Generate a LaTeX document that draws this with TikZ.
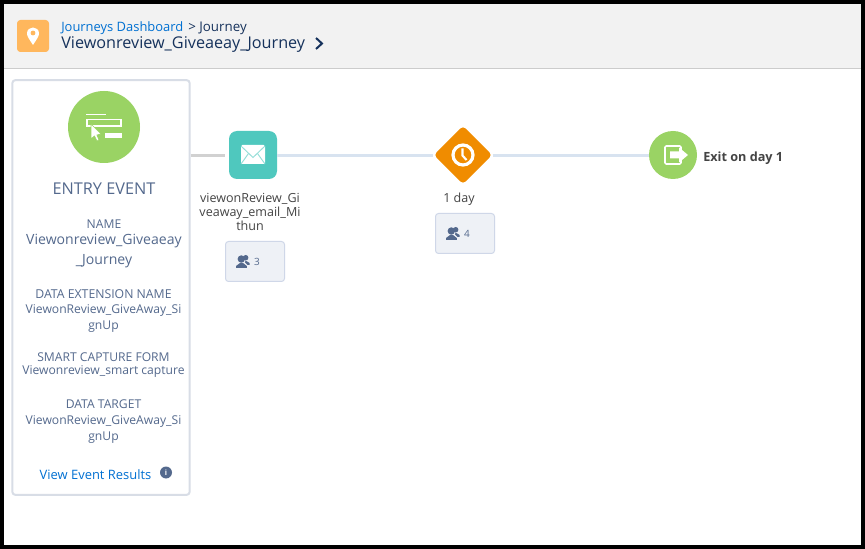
\documentclass[tikz,border=0pt]{standalone}
\usepackage{fontspec}
\setmainfont{Open Sans}
\usetikzlibrary{shapes.geometric}
\definecolor{slate}{HTML}{54698D}
\definecolor{navy}{HTML}{16325C}
\definecolor{linkblue}{HTML}{0070D2}
\definecolor{dark}{HTML}{444444}
\definecolor{panelb}{HTML}{D8DDE6}
\definecolor{green}{HTML}{9AD364}
\definecolor{teal}{HTML}{4FC8BE}
\definecolor{orange}{HTML}{F08C00}
\definecolor{pinbg}{HTML}{FFB75D}
\definecolor{badge}{HTML}{EEF1F6}
\definecolor{badgeb}{HTML}{CFD7E8}
\definecolor{header}{HTML}{F2F2F2}
\definecolor{flow}{HTML}{D8E3F0}
\tikzset{
 x=0.75pt,y=-0.75pt,
 lbl/.style={inner sep=0pt,text=#1,font=\fontsize{9.7pt}{12pt}\selectfont},
 lbl/.default=slate,
 ctext/.style={inner sep=0pt,align=center,text=slate,font=\fontsize{9.1pt}{12pt}\selectfont},
 captext/.style={inner sep=0pt,align=center,text=dark,font=\fontsize{9.4pt}{10.5pt}\selectfont},
 countbox/.style={draw=badgeb,fill=badge,line width=0.75pt,rounded corners=2.25pt,minimum width=44.25pt,minimum height=30pt,inner sep=0pt},
 flowline/.style={draw=flow,line width=2.25pt},
 iconline/.style={draw=white,line width=1.1pt},
}
\newcommand{\people}[2]{%
 \fill[slate] (#1+5.3,#2+4) circle (3.7);
 \fill[slate] (#1+0,#2+13) -- (#1+0,#2+11) -- (#1+4,#2+8) -- (#1+7,#2+8) -- (#1+10.8,#2+11) -- (#1+10.8,#2+13) -- cycle;
 \fill[slate] (#1+9.7,#2+2.7) circle (2.7);
 \fill[slate] (#1+9.5,#2+5.5) -- (#1+13.6,#2+8) -- (#1+13.6,#2+10) -- (#1+11.5,#2+10) -- (#1+9,#2+7.5) -- cycle;
}
\begin{document}
\begin{tikzpicture}
\useasboundingbox (0,0) rectangle (865,549);
\fill[black] (0,0) rectangle (865,549);
\fill[white] (4,4) rectangle (861,545);
\fill[header] (4,4) rectangle (861,68);
\draw[draw=black!20,line width=0.9pt] (4,68.5) -- (861,68.5);
% header icon
\node[fill=pinbg,minimum size=24pt,inner sep=0pt,rounded corners=2.5pt] (hicon) at (33,36) {};
\fill[white] (33,45) .. controls (29.5,39.5) and (27,36.5) .. (27,33.5) .. controls (27,25.5) and (39,25.5) .. (39,33.5) .. controls (39,36.5) and (36.5,39.5) .. (33,45) -- cycle;
\fill[pinbg] (33,33) circle (2.4);
\node[lbl=linkblue,anchor=west] (crumb) at (61,28.5) {Journeys Dashboard};
\node[lbl=navy,anchor=west,font=\fontsize{10pt}{12pt}\selectfont] (crumb2) at (188,28) {> Journey};
\node[lbl=navy,anchor=west,font=\fontsize{12.15pt}{14pt}\selectfont] (title) at (61,44.5) {Viewonreview\_Giveaeay\_Journey};
\draw[navy,line width=1.5pt] (316,38) -- (322,43.5) -- (316,49);
% panel
\node[draw=panelb,fill=white,line width=1.5pt,rounded corners=2.25pt,minimum width=133pt,minimum height=311pt,inner sep=0pt] (panel) at (101,287.5) {};
\node[fill=green,circle,minimum size=54pt,inner sep=0pt] (entry) at (104,127) {};
\draw[iconline] (86,114.5) -- (106,114.5);
\draw[iconline] (87,119.5) rectangle (121,126);
\fill[white] (105,133) rectangle (122,138);
\fill[white,draw=green,line width=0.5pt] (91,124) -- (91,139) -- (94.5,136) -- (97,141) -- (99,140) -- (97,135) -- (101,134) -- cycle;
\node[lbl,font=\fontsize{12.2pt}{14pt}\selectfont] (evt) at (104,189) {ENTRY EVENT};
\node[ctext] (n1) at (104,224) {NAME};
\node[ctext,font=\fontsize{10.55pt}{15pt}\selectfont,anchor=north] (n2) at (104,234) {Viewonreview\_Giveaeay\\\_Journey};
\node[ctext,font=\fontsize{9.2pt}{12pt}\selectfont] (n3) at (103.5,294) {DATA EXTENSION NAME};
\node[ctext,font=\fontsize{9.1pt}{12pt}\selectfont,anchor=north] (n4) at (103.5,304) {ViewonReview\_GiveAway\_Si\\gnUp};
\node[ctext] (n5) at (103.5,357) {SMART CAPTURE FORM};
\node[ctext] (n6) at (103.5,372) {Viewonreview\_smart capture};
\node[ctext] (n7) at (103.5,404) {DATA TARGET};
\node[ctext,anchor=north] (n8) at (103.5,415) {ViewonReview\_GiveAway\_Si\\gnUp};
\node[lbl=linkblue] (view) at (95.5,474.5) {View Event Results};
\node[fill=slate,circle,minimum size=9pt,inner sep=0pt,text=white,font=\fontsize{5.5pt}{6pt}\selectfont\bfseries] (info) at (166,472.5) {i};
% flow nodes
\node[fill=teal,minimum size=36pt,inner sep=0pt,rounded corners=6pt] (mail) at (253,155) {};
\node[fill=orange,diamond,aspect=1,minimum size=44pt,inner sep=0pt,rounded corners=3pt] (wait) at (463,155) {};
\node[fill=green,circle,minimum size=36pt,inner sep=0pt] (exit) at (673,155) {};
\coordinate (gapend) at (225,155.5);
\draw[draw=black!18,line width=2.25pt] (panel.east |- gapend) -- (gapend);
\draw[flowline] (mail.east |- gapend) -- (wait.west |- gapend);
\draw[flowline] (wait.east |- gapend) -- (exit.west |- gapend);
% mail icon
\fill[white,rounded corners=1pt] (241,145) rectangle (265,164);
\draw[teal!60!white,line width=0.7pt] (241,146) -- (253,157.5) -- (265,146);
\draw[teal!60!white,line width=0.7pt] (241,164) -- (248.5,153.5);
\draw[teal!60!white,line width=0.7pt] (265,164) -- (257.5,153.5);
% clock icon
\draw[white,line width=2.4pt] (463,155) circle (10);
\draw[white,line width=1.6pt] (462.5,148.5) -- (462.5,155.5) -- (466.5,160);
% exit icon
\draw[white,line width=1.2pt,rounded corners=1pt] (681,150.5) -- (681,146) -- (665,146) -- (665,164) -- (681,164) -- (681,159.5);
\fill[white] (670,151.5) -- (679,151.5) -- (679,147.5) -- (688,155) -- (679,162.5) -- (679,158.5) -- (670,158.5) -- cycle;
% labels
\node[captext,anchor=north] (mailcap) at (250,193) {viewonReview\_Gi\\veaway\_email\_Mi\\thun};
\node[captext] (waitcap) at (459,199) {1 day};
\node[captext,font=\fontsize{9.5pt}{12pt}\selectfont\bfseries,anchor=west] (exitcap) at (703,158.5) {Exit on day 1};
\node[countbox] (c1) at (255,261.5) {};
\node[countbox] (c2) at (465,233.5) {};
\people{236}{255}
\people{446}{227}
\node[ctext,font=\fontsize{7.5pt}{9pt}\selectfont] (c1t) at (257,261.5) {3};
\node[ctext,font=\fontsize{7.5pt}{9pt}\selectfont] (c2t) at (467,233.5) {4};
\end{tikzpicture}
\end{document}
